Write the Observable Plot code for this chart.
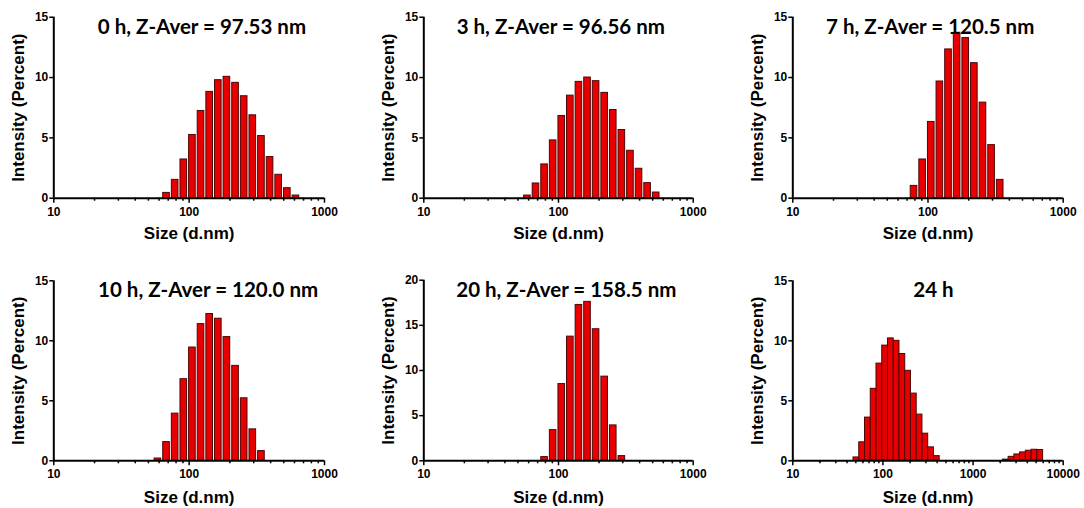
<!DOCTYPE html>
<html><head><meta charset="utf-8">
<script src="https://cdn.jsdelivr.net/npm/d3@7"></script>
<script src="https://cdn.jsdelivr.net/npm/@observablehq/plot@0.6"></script>
<style>
html,body{margin:0;padding:0;background:#fff;}
#root{position:relative;width:1084px;height:508px;overflow:hidden;background:#fff;}
.panel{position:absolute;}
</style></head><body><div id="root"></div>
<script>
// ---- data ----
const titles = ["0 h, Z-Aver = 97.53 nm", "3 h, Z-Aver = 96.56 nm", "7 h, Z-Aver = 120.5 nm",
                "10 h, Z-Aver = 120.0 nm", "20 h, Z-Aver = 158.5 nm", "24 h"];
const sizes0h = [68.06, 78.82, 91.28, 105.7, 122.4, 141.8, 164.2, 190.1, 220.2, 255.0, 295.3, 342.0, 396.1, 458.7, 531.2, 615.1];
const intensity0h = [0.44, 1.52, 3.21, 5.24, 7.23, 8.81, 9.78, 10.06, 9.56, 8.45, 6.87, 5.15, 3.41, 1.94, 0.83, 0.22];
const sizes3h = [58.77, 68.06, 78.82, 91.28, 105.7, 122.4, 141.8, 164.2, 190.1, 220.2, 255.0, 295.3, 342.0, 396.1, 458.7, 531.2];
const intensity3h = [0.22, 1.22, 2.80, 4.79, 6.81, 8.50, 9.64, 10.0, 9.70, 8.73, 7.31, 5.65, 3.93, 2.44, 1.25, 0.47];
const sizes7h = [78.82, 91.28, 105.7, 122.4, 141.8, 164.2, 190.1, 220.2, 255.0, 295.3, 342.0];
const intensity7h = [1.02, 3.21, 6.32, 9.67, 12.33, 13.71, 13.27, 11.19, 7.92, 4.40, 1.52];
const sizes10h = [58.77, 68.06, 78.82, 91.28, 105.7, 122.4, 141.8, 164.2, 190.1, 220.2, 255.0, 295.3, 342.0];
const intensity10h = [0.19, 1.56, 3.93, 6.80, 9.44, 11.39, 12.23, 11.84, 10.31, 7.91, 5.21, 2.62, 0.81];
const sizes20h = [78.82, 91.28, 105.7, 122.4, 141.8, 164.2, 190.1, 220.2, 255.0, 295.3];
const intensity20h = [0.41, 3.40, 8.50, 13.75, 17.26, 17.60, 14.57, 9.32, 3.92, 0.52];
const sizes24h = [50.75, 58.77, 68.06, 78.82, 91.28, 105.7, 122.4, 141.8, 164.2, 190.1, 220.2, 255.0, 295.3, 342.0, 396.1,
                  2305, 2669, 3091, 3580, 4145, 4801, 5560];
const intensity24h = [0.28, 1.54, 3.6, 6.0, 8.1, 9.6, 10.2, 10.0, 8.9, 7.5, 5.6, 3.85, 2.26, 1.12, 0.39,
                      0.1, 0.33, 0.53, 0.7, 0.84, 0.92, 0.9];
const xMajorTicks = [10, 100, 1000];
const xMajorTicks24 = [10, 100, 1000, 10000];
const xMinorTicks = [20, 30, 40, 50, 60, 70, 80, 90, 200, 300, 400, 500, 600, 700, 800, 900];
const xMinorTicks24 = [20, 30, 40, 50, 60, 70, 80, 90, 200, 300, 400, 500, 600, 700, 800, 900,
                       2000, 3000, 4000, 5000, 6000, 7000, 8000, 9000];
const yTicks15 = [0, 5, 10, 15];
const yTicks20 = [0, 5, 10, 15, 20];
const yLabel = "Intensity (Percent)";
const xLabel = "Size (d.nm)";

const series = [
  {sizes: sizes0h, values: intensity0h, xMax: 1000, yMax: 15, major: xMajorTicks, minor: xMinorTicks, yTicks: yTicks15},
  {sizes: sizes3h, values: intensity3h, xMax: 1000, yMax: 15, major: xMajorTicks, minor: xMinorTicks, yTicks: yTicks15},
  {sizes: sizes7h, values: intensity7h, xMax: 1000, yMax: 15, major: xMajorTicks, minor: xMinorTicks, yTicks: yTicks15},
  {sizes: sizes10h, values: intensity10h, xMax: 1000, yMax: 15, major: xMajorTicks, minor: xMinorTicks, yTicks: yTicks15},
  {sizes: sizes20h, values: intensity20h, xMax: 1000, yMax: 20, major: xMajorTicks, minor: xMinorTicks, yTicks: yTicks20},
  {sizes: sizes24h, values: intensity24h, xMax: 10000, yMax: 15, major: xMajorTicks24, minor: xMinorTicks24, yTicks: yTicks15}
];

// ---- layout / style ----
const layout = [
  {left: 0,   top: 0,   width: 360, mL: 53.3, mR: 36,   mT: 16.7, mB: 52.3, tDx: 12.8, tDy: 16.6, xlDy: 35.5, k: 1.058},
  {left: 360, top: 0,   width: 360, mL: 63.3, mR: 27.3, mT: 16.7, mB: 52.3, tDx: 2.3,  tDy: 16.6, xlDy: 35.5, k: 1.058},
  {left: 720, top: 0,   width: 364, mL: 72.3, mR: 21.3, mT: 16.7, mB: 52.3, tDx: 2.2,  tDy: 16.6, xlDy: 35.5, k: 1.058},
  {left: 0,   top: 258, width: 360, mL: 53.3, mR: 36,   mT: 22.3, mB: 47.7, tDx: 19,   tDy: 16,   xlDy: 37,   k: 1.058},
  {left: 360, top: 258, width: 360, mL: 63.3, mR: 27.3, mT: 21.7, mB: 47.7, tDx: 7.8,  tDy: 16.6, xlDy: 37,   k: 1.058},
  {left: 720, top: 258, width: 364, mL: 72.3, mR: 21.3, mT: 22.3, mB: 47.7, tDx: 5.5,  tDy: 16,   xlDy: 37,   k: 1.0762}
];
const PANEL_H = 250;
const BAR_FILL = "#e80000";
const BAR_STROKE = "#4a0808";
const root = document.getElementById("root");

series.forEach((s, i) => {
  const L = layout[i];
  const data = s.sizes.map((size, j) => ({size, value: s.values[j]}));
  const k = L.k;
  const chart = Plot.plot({
    width: L.width, height: PANEL_H,
    marginLeft: L.mL, marginRight: L.mR, marginTop: L.mT, marginBottom: L.mB,
    x: {type: "log", domain: [10, s.xMax]},
    y: {domain: [0, s.yMax]},
    style: {fontFamily: "'Liberation Sans', Arial, sans-serif", fontWeight: "bold", fontSize: "12px", color: "#000", background: "#fff", overflow: "visible"},
    marks: [
      Plot.rect(data, {x1: d => d.size / k, x2: d => d.size * k, y1: 0, y2: "value",
                       fill: BAR_FILL, stroke: BAR_STROKE, strokeWidth: 1}),
      Plot.axisX(s.minor, {tickSize: 3, tickFormat: () => "", label: null, strokeWidth: 1.5}),
      Plot.axisX(s.major, {tickSize: 5, tickPadding: 4, tickFormat: d => String(d), label: null, strokeWidth: 1.5}),
      Plot.axisY(s.yTicks, {tickSize: 4, tickPadding: 1.5, label: null, strokeWidth: 1.5}),
      Plot.ruleY([0], {strokeWidth: 2}),
      Plot.ruleX([10], {strokeWidth: 2}),
      Plot.text([yLabel], {frameAnchor: "left", dx: -35, rotate: -90, fontSize: 17, fontWeight: "bold",
                           textAnchor: "middle", lineAnchor: "middle"}),
      Plot.text([xLabel], {frameAnchor: "bottom", dy: L.xlDy, fontSize: 17, fontWeight: "bold", lineAnchor: "middle"}),
      Plot.text([titles[i]], {frameAnchor: "top", dx: L.tDx, dy: L.tDy, fontSize: 20.5, fontWeight: "bold",
                              fontFamily: "Lato, 'Open Sans', sans-serif", lineAnchor: "bottom"})
    ]
  });
  chart.classList.add("panel");
  chart.style.left = L.left + "px";
  chart.style.top = L.top + "px";
  root.appendChild(chart);
});
</script>
</body></html>
